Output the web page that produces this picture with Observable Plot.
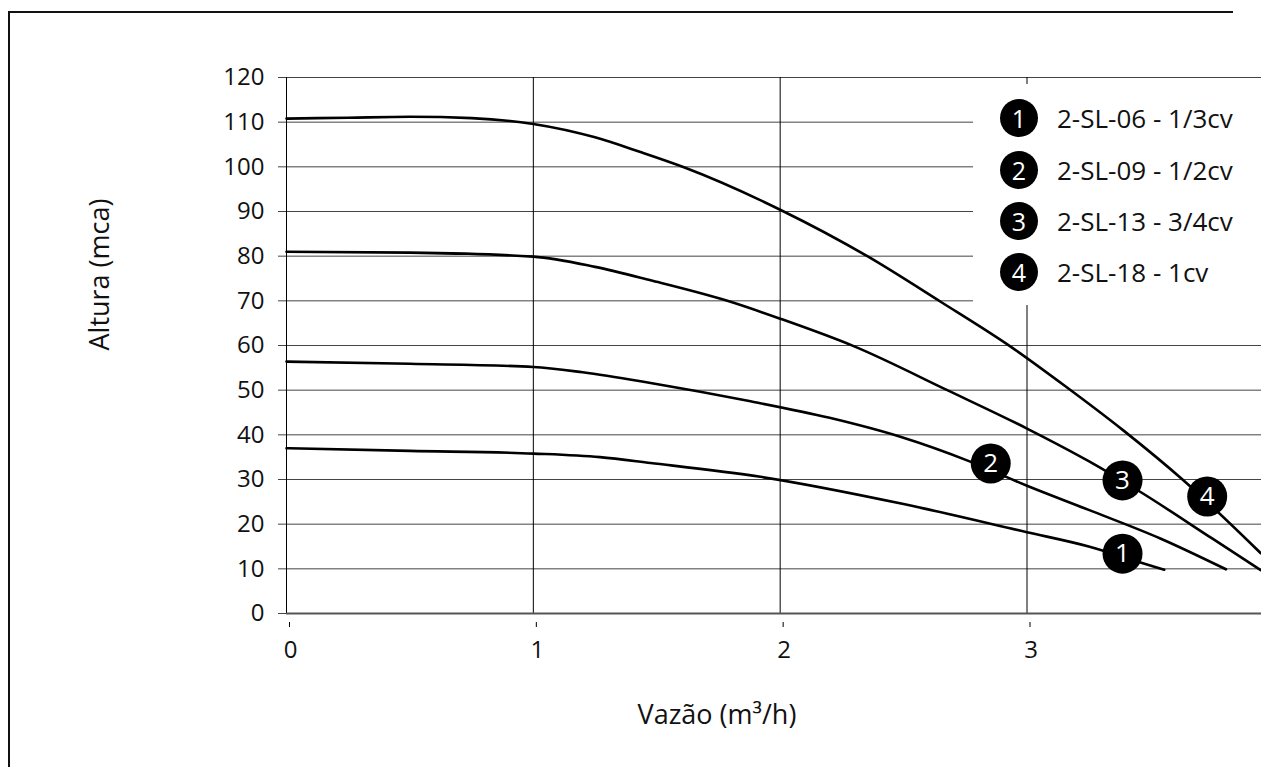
<!DOCTYPE html>
<html>
<head>
<meta charset="utf-8">
<script src="https://cdn.jsdelivr.net/npm/d3@7"></script>
<script src="https://cdn.jsdelivr.net/npm/@observablehq/plot@0.6"></script>
<style>
  html, body { margin: 0; padding: 0; background: #fff; overflow: hidden; font-family: "Open Sans", sans-serif; }
  #wrap { position: relative; width: 1261px; height: 767px; overflow: hidden; }
  #chart svg { display: block; }
  #borderTop { position: absolute; left: 8px; top: 11px; width: 1225px; height: 2px; background: #111; }
  #borderLeft { position: absolute; left: 8px; top: 11px; width: 2px; height: 756px; background: #111; }
  #legend { position: absolute; left: 973px; top: 84px; width: 288px; height: 221px; background: #fff; }
  .item { position: absolute; left: 27px; height: 38px; display: flex; align-items: center;
          font-size: 26px; color: #111; white-space: nowrap; }
  .badge { width: 38px; height: 38px; border-radius: 50%; background: #000; color: #fff;
           display: flex; align-items: center; justify-content: center; font-size: 25px; margin-right: 19px; }
</style>
</head>
<body>
<div id="wrap">
  <div id="chart"></div>
  <div id="borderTop"></div>
  <div id="borderLeft"></div>
  <div id="legend"></div>
</div>
<script>
// Series names
const seriesNames = ["2-SL-06 - 1/3cv", "2-SL-09 - 1/2cv", "2-SL-13 - 3/4cv", "2-SL-18 - 1cv"];
const seriesIds = ["1", "2", "3", "4"];

// Flow (m³/h) and head (mca) per pump
const q1 = [0, 0.5, 1, 1.27, 1.475, 1.92, 2.5, 3, 3.25, 3.45, 3.556];
const v1 = [37.0, 36.4, 35.8, 35.0, 33.7, 30.6, 24.5, 18.2, 15.0, 11.6, 9.8];

const q2 = [0, 0.5, 1, 1.2, 1.475, 1.88, 2.2, 2.49, 2.77, 3, 3.25, 3.54, 3.806];
const v2 = [56.4, 55.9, 55.2, 54.0, 51.6, 47.5, 43.8, 39.5, 34.0, 28.6, 23.2, 16.8, 9.9];

const q3 = [0, 0.5, 1, 1.25, 1.475, 1.786, 2, 2.3, 2.677, 3, 3.25, 3.46, 3.75, 3.947];
const v3 = [81.0, 80.8, 79.9, 77.6, 74.6, 70.0, 66.0, 59.8, 50.0, 41.4, 34.1, 27.2, 16.8, 9.7];

const q4 = [0, 0.25, 0.5, 0.75, 1, 1.25, 1.434, 1.61, 2, 2.353, 2.65, 2.935, 3.15, 3.39, 3.63, 3.947];
const v4 = [110.8, 111.0, 111.2, 110.9, 109.6, 106.6, 103.3, 99.9, 90.4, 80.0, 69.8, 59.7, 51.1, 41.0, 30.0, 13.5];

// Curve number labels
const labelQ = [3.387, 2.853, 3.387, 3.73];
const labelV = [13.4, 33.6, 29.8, 26.2];

// Axis ticks
const xTicks = [0, 1, 2, 3];
const yTicks = [0, 10, 20, 30, 40, 50, 60, 70, 80, 90, 100, 110, 120];

const qs = [q1, q2, q3, q4], vs = [v1, v2, v3, v4];
const rows = [];
qs.forEach((qa, i) => qa.forEach((q, j) => rows.push({s: seriesIds[i], q, v: vs[i][j]})));
const labels = seriesIds.map((id, i) => ({id, q: labelQ[i], v: labelV[i]}));

const chart = Plot.plot({
  width: 1261,
  height: 767,
  marginLeft: 286,
  marginRight: 0,
  marginTop: 77,
  marginBottom: 154,
  style: {fontFamily: "'Open Sans', sans-serif", fontSize: "24px", color: "#111", background: "transparent"},
  x: {domain: [0, 3.95]},
  y: {domain: [0, 120]},
  marks: [
    Plot.gridY(yTicks, {stroke: "#444", strokeOpacity: 1, strokeWidth: 1}),
    Plot.gridX(xTicks, {stroke: "#000", strokeOpacity: 1, strokeWidth: 1}),
    Plot.axisY(yTicks, {tickSize: 8, tickPadding: 14, label: null, stroke: "#444"}),
    Plot.axisX(xTicks, {tickSize: 0, tickPadding: 27, dx: 4, label: null, tickFormat: d => String(d)}),
    Plot.ruleX(xTicks, {y1: 0, y2: 0, insetTop: 9, insetBottom: -14, dx: 3, stroke: "#000"}),
    Plot.ruleY([0], {stroke: "#555", strokeWidth: 2}),
    Plot.line(rows, {x: "q", y: "v", z: "s", curve: "monotone-x", stroke: "#000", strokeWidth: 2.6}),
    Plot.dot(labels, {x: "q", y: "v", r: 20, fill: "#000", stroke: null}),
    Plot.text(labels, {x: "q", y: "v", text: "id", fill: "#fff", fontSize: 26}),
    Plot.text(["Vazão (m³/h)"], {frameAnchor: "bottom", dx: -57, dy: 110, fontSize: 27, fill: "#111"}),
    Plot.text(["Altura (mca)"], {frameAnchor: "left", rotate: -90, dx: -186, dy: 5, fontSize: 27, fill: "#111"})
  ]
});
document.getElementById("chart").appendChild(chart);

// Legend
const legend = document.getElementById("legend");
const itemTops = [15, 67, 118, 169];
seriesNames.forEach((name, i) => {
  const d = document.createElement("div");
  d.className = "item";
  d.style.top = itemTops[i] + "px";
  const b = document.createElement("span");
  b.className = "badge";
  b.textContent = seriesIds[i];
  const t = document.createElement("span");
  t.textContent = name;
  d.appendChild(b);
  d.appendChild(t);
  legend.appendChild(d);
});
</script>
</body>
</html>
